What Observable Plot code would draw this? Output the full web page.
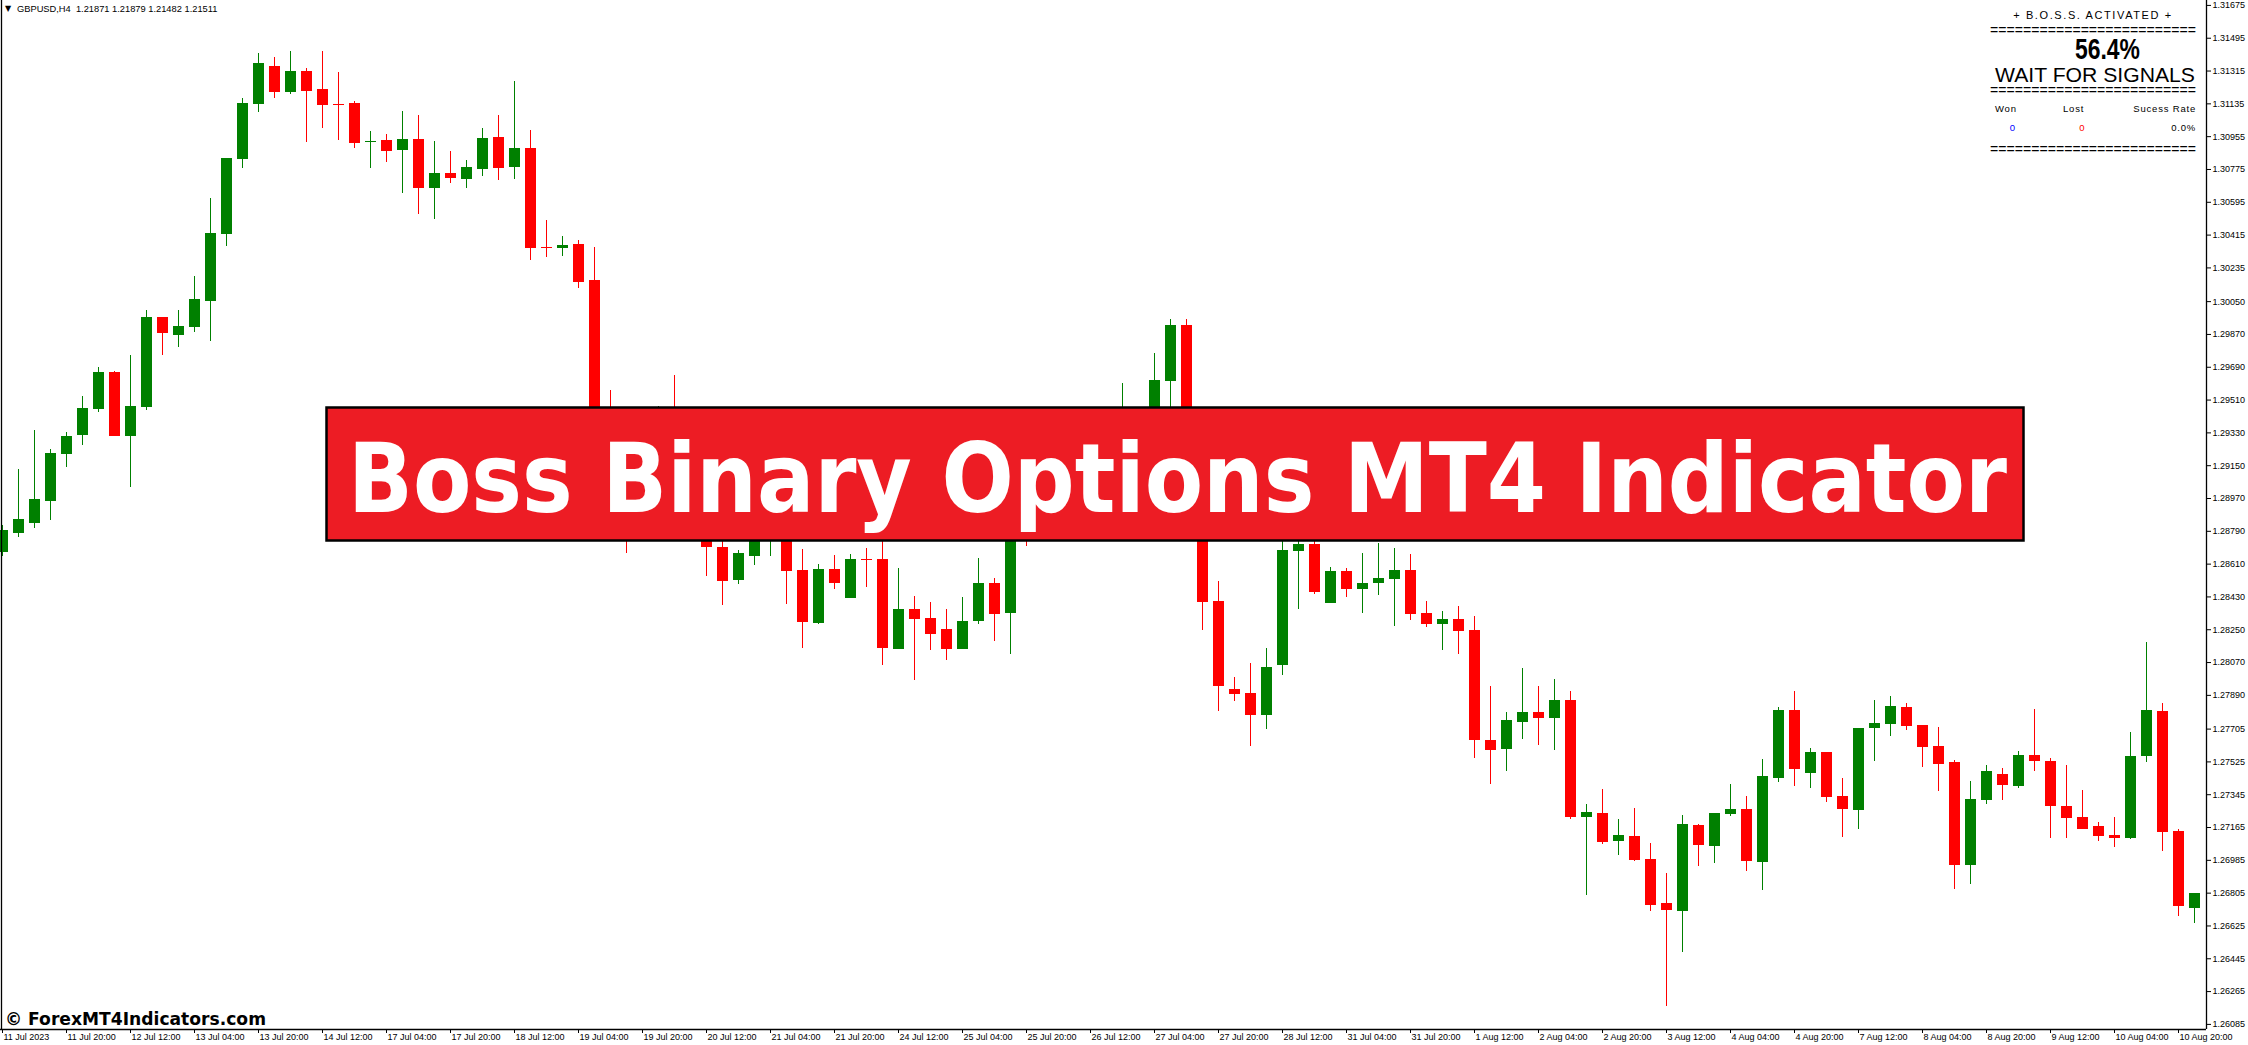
<!DOCTYPE html>
<html><head><meta charset="utf-8">
<script src="https://cdn.jsdelivr.net/npm/d3@7"></script>
<script src="https://cdn.jsdelivr.net/npm/@observablehq/plot@0.6"></script>
<style>
body{margin:0;background:#fff;}
#wrap{position:relative;width:2248px;height:1045px;overflow:hidden;background:#fff;}
#wrap > svg{position:absolute;left:0;top:0;}
</style></head><body><div id="wrap"></div>
<script>
// GBPUSD H4, 11 Jul 2023 04:00 .. 11 Aug 2023 00:00 (one value per bar)
const openP = [1.28674,1.28778,1.28833,1.28954,1.29211,1.29316,1.29458,1.29661,1.29310,1.29469,
1.29963,1.29864,1.29908,1.30051,1.30418,1.30830,1.31131,1.31340,1.31197,1.31313,
1.31214,1.31131,1.31137,1.30923,1.30934,1.30879,1.30939,1.30671,1.30753,1.30720,
1.30775,1.30950,1.30786,1.30890,1.30347,1.30342,1.30363,1.30166,1.29288,1.29151,
1.28849,1.29069,1.29233,1.28959,1.29041,1.28701,1.28520,1.28652,1.28794,1.28932,
1.28575,1.28284,1.28581,1.28421,1.28636,1.28636,1.28142,1.28361,1.28312,1.28251,
1.28142,1.28295,1.28504,1.28339,1.28849,1.28767,1.28959,1.29124,1.29014,1.29178,
1.29096,1.29343,1.29261,1.29612,1.29919,1.29069,1.28405,1.27922,1.27900,1.27780,
1.28054,1.28679,1.28718,1.28394,1.28570,1.28471,1.28504,1.28526,1.28575,1.28339,
1.28279,1.28306,1.28246,1.27643,1.27593,1.27741,1.27796,1.27763,1.27862,1.27220,
1.27242,1.27089,1.27116,1.26990,1.26748,1.26704,1.27176,1.27061,1.27237,1.27264,
1.26973,1.27434,1.27807,1.27462,1.27577,1.27336,1.27259,1.27709,1.27730,1.27823,
1.27725,1.27610,1.27522,1.26957,1.27314,1.27456,1.27390,1.27560,1.27528,1.27281,
1.27220,1.27171,1.27121,1.27105,1.27555,1.27802,1.27143,1.26721];
const highP = [1.28822,1.29129,1.29343,1.29239,1.29332,1.29530,1.29689,1.29667,1.29755,1.30001,
1.29963,1.30001,1.30188,1.30616,1.30835,1.31164,1.31411,1.31389,1.31422,1.31329,
1.31422,1.31307,1.31148,1.30983,1.30967,1.31093,1.31071,1.30928,1.30874,1.30824,
1.31000,1.31071,1.31258,1.30989,1.30495,1.30407,1.30385,1.30347,1.29562,1.29233,
1.29124,1.29475,1.29645,1.29124,1.29124,1.28794,1.28685,1.28932,1.29014,1.28986,
1.28690,1.28608,1.28657,1.28663,1.28696,1.28794,1.28586,1.28432,1.28399,1.28361,
1.28427,1.28641,1.28531,1.28904,1.28959,1.29014,1.29178,1.29206,1.29233,1.29288,
1.29601,1.29398,1.29765,1.29952,1.29952,1.29124,1.28515,1.27988,1.28065,1.28147,
1.28822,1.28767,1.28740,1.28592,1.28586,1.28668,1.28723,1.28696,1.28663,1.28405,
1.28350,1.28377,1.28323,1.27939,1.27796,1.28037,1.27939,1.27977,1.27911,1.27292,
1.27374,1.27209,1.27270,1.27078,1.26913,1.27231,1.27182,1.27242,1.27401,1.27336,
1.27539,1.27823,1.27911,1.27599,1.27577,1.27434,1.27709,1.27862,1.27884,1.27845,
1.27725,1.27714,1.27533,1.27418,1.27506,1.27489,1.27582,1.27812,1.27544,1.27506,
1.27368,1.27193,1.27220,1.27687,1.28180,1.27845,1.27154,1.26803];
const lowP = [1.28652,1.28756,1.28805,1.28849,1.29140,1.29261,1.29442,1.29310,1.29030,1.29453,
1.29755,1.29798,1.29881,1.29831,1.30352,1.30780,1.31088,1.31164,1.31186,1.30923,
1.31000,1.30934,1.30890,1.30780,1.30813,1.30643,1.30528,1.30501,1.30698,1.30671,
1.30736,1.30715,1.30720,1.30276,1.30292,1.30298,1.30122,1.29222,1.29069,1.28668,
1.28794,1.29014,1.28904,1.28849,1.28542,1.28383,1.28498,1.28603,1.28652,1.28388,
1.28147,1.28279,1.28471,1.28421,1.28482,1.28054,1.28142,1.27972,1.28136,1.28081,
1.28142,1.28279,1.28186,1.28114,1.28707,1.28740,1.28904,1.28959,1.28986,1.29069,
1.29069,1.29178,1.29233,1.29398,1.28959,1.28246,1.27802,1.27856,1.27610,1.27703,
1.27999,1.28361,1.28443,1.28394,1.28427,1.28339,1.28438,1.28268,1.28301,1.28262,
1.28136,1.28114,1.27544,1.27401,1.27473,1.27648,1.27615,1.27588,1.27209,1.26792,
1.27072,1.27012,1.26979,1.26704,1.26183,1.26479,1.26951,1.26968,1.27226,1.26924,
1.26820,1.27412,1.27390,1.27379,1.27303,1.27110,1.27154,1.27528,1.27665,1.27698,
1.27495,1.27363,1.26825,1.26853,1.27292,1.27314,1.27379,1.27473,1.27105,1.27105,
1.27154,1.27089,1.27056,1.27100,1.27522,1.27034,1.26677,1.26638];
const closeP = [1.28794,1.28855,1.28965,1.29217,1.29310,1.29464,1.29661,1.29310,1.29475,1.29963,
1.29875,1.29914,1.30062,1.30424,1.30835,1.31137,1.31356,1.31197,1.31313,1.31203,
1.31126,1.31126,1.30918,1.30928,1.30874,1.30939,1.30671,1.30753,1.30726,1.30786,
1.30945,1.30780,1.30890,1.30342,1.30342,1.30358,1.30155,1.29288,1.29151,1.28849,
1.29069,1.29233,1.28959,1.29041,1.28701,1.28515,1.28668,1.28849,1.28932,1.28570,
1.28290,1.28581,1.28504,1.28636,1.28630,1.28147,1.28361,1.28306,1.28224,1.28142,
1.28295,1.28504,1.28334,1.28849,1.28767,1.28959,1.29124,1.29014,1.29178,1.29096,
1.29343,1.29261,1.29617,1.29919,1.29069,1.28399,1.27939,1.27895,1.27780,1.28043,
1.28685,1.28718,1.28454,1.28570,1.28471,1.28504,1.28531,1.28575,1.28334,1.28279,
1.28306,1.28240,1.27643,1.27588,1.27752,1.27796,1.27763,1.27862,1.27220,1.27248,
1.27083,1.27121,1.26984,1.26737,1.26710,1.27182,1.27067,1.27242,1.27264,1.26979,
1.27445,1.27807,1.27484,1.27577,1.27330,1.27264,1.27709,1.27736,1.27829,1.27720,
1.27604,1.27511,1.26957,1.27319,1.27473,1.27396,1.27560,1.27528,1.27281,1.27215,
1.27154,1.27116,1.27105,1.27555,1.27807,1.27138,1.26732,1.26803];

const priceTicks = [1.31675,1.31495,1.31315,1.31135,1.30955,1.30775,1.30595,1.30415,1.30235,1.30050,
1.29870,1.29690,1.29510,1.29330,1.29150,1.28970,1.28790,1.28610,1.28430,1.28250,
1.28070,1.27890,1.27705,1.27525,1.27345,1.27165,1.26985,1.26805,1.26625,1.26445,
1.26265,1.26085];
const timeTickBars = [0,4,8,12,16,20,24,28,32,36,40,44,48,52,56,60,64,68,72,76,80,84,88,92,96,100,104,108,112,116,120,124,128,132,136];
const timeTickLabels = ["11 Jul 2023","11 Jul 20:00","12 Jul 12:00","13 Jul 04:00","13 Jul 20:00","14 Jul 12:00","17 Jul 04:00","17 Jul 20:00","18 Jul 12:00","19 Jul 04:00","19 Jul 20:00","20 Jul 12:00","21 Jul 04:00","21 Jul 20:00","24 Jul 12:00","25 Jul 04:00","25 Jul 20:00","26 Jul 12:00","27 Jul 04:00","27 Jul 20:00","28 Jul 12:00","31 Jul 04:00","31 Jul 20:00","1 Aug 12:00","2 Aug 04:00","2 Aug 20:00","3 Aug 12:00","4 Aug 04:00","4 Aug 20:00","7 Aug 12:00","8 Aug 04:00","8 Aug 20:00","9 Aug 12:00","10 Aug 04:00","10 Aug 20:00"];

const bullColor = "#008000";
const bearColor = "#ff0000";

const candles = openP.map((o, i) => ({i, o, h: highP[i], l: lowP[i], c: closeP[i]}));
const bulls = candles.filter(d => d.c >= d.o);
const bears = candles.filter(d => d.c < d.o);
const half = 0.34375;
const xDomain = [-0.125, 137.75];
const yDomain = [1.26057, 1.31702];

const chart = Plot.plot({
  width: 2248, height: 1045,
  marginLeft: 0, marginRight: 42, marginTop: 0, marginBottom: 16,
  style: {fontFamily: "'Liberation Sans', Arial, sans-serif", fontSize: "9px", color: "#000", background: "transparent"},
  x: {domain: xDomain, ticks: timeTickBars, tickFormat: () => "", tickSize: 4, label: null},
  y: {domain: yDomain, axis: "right", ticks: priceTicks, tickFormat: d => d.toFixed(5), tickSize: 4, tickPadding: 2, label: null},
  marks: [
    Plot.ruleX(bulls, {x: "i", y1: "l", y2: "h", stroke: bullColor, strokeWidth: 1, shapeRendering: "crispEdges"}),
    Plot.ruleX(bears, {x: "i", y1: "l", y2: "h", stroke: bearColor, strokeWidth: 1, shapeRendering: "crispEdges"}),
    Plot.rect(bulls, {x1: d => d.i - half, x2: d => d.i + half, y1: "o", y2: "c", fill: bullColor, shapeRendering: "crispEdges"}),
    Plot.rect(bears, {x1: d => d.i - half, x2: d => d.i + half, y1: "c", y2: "o", fill: bearColor, shapeRendering: "crispEdges"}),
    Plot.ruleY([yDomain[0]], {stroke: "#000", strokeWidth: 1.3}),
    Plot.ruleX([xDomain[1]], {stroke: "#000", strokeWidth: 1.3}),
    Plot.ruleX([xDomain[0]], {stroke: "#000", strokeWidth: 1.3, dx: 1}),
    Plot.text(timeTickBars, {x: d => d, text: (d, i) => timeTickLabels[i], frameAnchor: "bottom", textAnchor: "start", dx: 1, dy: 10.5, fontSize: 9, fill: "#000"})
  ]
});
const wrap = document.getElementById("wrap");
wrap.appendChild(chart);

const eq = "=".repeat(25);
const bs = 0.8866; // horizontal squeeze of the banner title
const overlay = `
<svg xmlns="http://www.w3.org/2000/svg" width="2248" height="1045" font-family="'Liberation Sans', Arial, sans-serif" style="position:absolute;left:0;top:0">
  <text x="5" y="11" font-size="8" font-family="'DejaVu Sans', sans-serif">▼</text>
  <text x="17" y="11.7" font-size="9.3" fill="#000">GBPUSD,H4&#160;&#160;1.21871 1.21879 1.21482 1.21511</text>

  <text x="2093" y="18.7" font-size="11" letter-spacing="1.6" text-anchor="middle" fill="#000">+ B.O.S.S. ACTIVATED +</text>
  <text x="1990" y="35" font-size="14" textLength="206" lengthAdjust="spacingAndGlyphs" fill="#000">${eq}</text>
  <text x="2075" y="59" font-size="29" font-weight="bold" textLength="65" lengthAdjust="spacingAndGlyphs" fill="#000">56.4%</text>
  <text x="1995" y="81.7" font-size="21" textLength="200" lengthAdjust="spacingAndGlyphs" fill="#000">WAIT FOR SIGNALS</text>
  <text x="1990" y="94.5" font-size="14" textLength="206" lengthAdjust="spacingAndGlyphs" fill="#000">${eq}</text>
  <text x="1995" y="111.7" font-size="9.5" letter-spacing="0.8" fill="#000">Won</text>
  <text x="2063" y="111.7" font-size="9.5" letter-spacing="0.8" fill="#000">Lost</text>
  <text x="2196" y="111.7" font-size="9.5" letter-spacing="0.8" text-anchor="end" fill="#000">Sucess Rate</text>
  <text x="2012.5" y="130.7" font-size="9.5" text-anchor="middle" fill="#0000ff">0</text>
  <text x="2082" y="130.7" font-size="9.5" text-anchor="middle" fill="#ff0000">0</text>
  <text x="2196" y="130.7" font-size="9.5" letter-spacing="0.8" text-anchor="end" fill="#000">0.0%</text>
  <text x="1990" y="154" font-size="14" textLength="206" lengthAdjust="spacingAndGlyphs" fill="#000">${eq}</text>

  <rect x="326.5" y="407.5" width="1697" height="133" fill="#ED1C24" stroke="#000" stroke-width="2.5"/>
  <g transform="translate(348,512) scale(${bs},1)">
    <text x="0" y="0" font-size="96" font-weight="bold" font-family="'DejaVu Sans', sans-serif" fill="#fff" textLength="${(1659 / bs).toFixed(1)}" lengthAdjust="spacingAndGlyphs">Boss Binary Options MT4 Indicator</text>
  </g>

  <text x="5" y="1025" font-size="17" font-weight="bold" font-family="'DejaVu Sans', sans-serif" fill="#000" textLength="261" lengthAdjust="spacingAndGlyphs">© ForexMT4Indicators.com</text>
</svg>`;
wrap.insertAdjacentHTML("beforeend", overlay);
</script>
</body></html>
